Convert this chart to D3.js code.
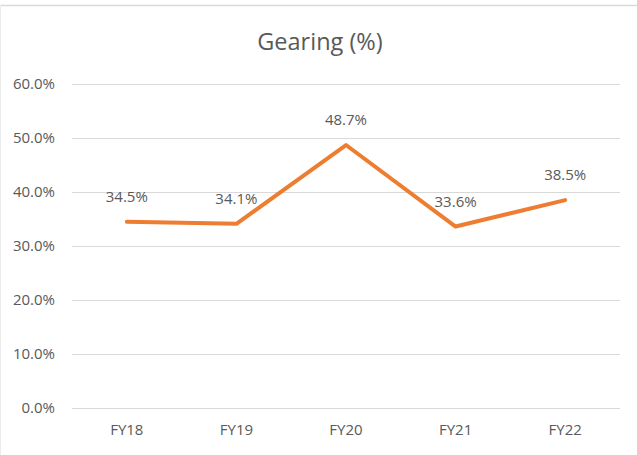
<!DOCTYPE html>
<html>
<head>
<meta charset="utf-8">
<script src="https://cdn.jsdelivr.net/npm/d3@7"></script>
<style>
  body { margin: 0; background: #fff; }
  text { font-family: "Open Sans", "Noto Sans", sans-serif; fill: #595959; }
</style>
</head>
<body>
<div id="chart"></div>
<script>
var years = ["FY18", "FY19", "FY20", "FY21", "FY22"];
var gearing = [34.5, 34.1, 48.7, 33.6, 38.5];
var yTicks = [0, 10, 20, 30, 40, 50, 60];

var W = 637, H = 455;
var margin = {top: 84, right: 17, bottom: 47, left: 72},
    width = W - margin.left - margin.right,
    height = H - margin.top - margin.bottom;

var svg = d3.select("#chart").append("svg")
    .attr("width", W)
    .attr("height", H);

// frame edges (only top and left show in the picture)
svg.append("line")
    .attr("x1", 0).attr("x2", W)
    .attr("y1", 5.5).attr("y2", 5.5)
    .style("stroke", "#d9d9d9").style("stroke-width", 1.5);
svg.append("line")
    .attr("x1", 0.5).attr("x2", 0.5)
    .attr("y1", 5).attr("y2", H)
    .style("stroke", "#ececec");

svg.append("text")
    .attr("x", 320)
    .attr("y", 50)
    .attr("text-anchor", "middle")
    .style("font-size", "23.5px")
    .text("Gearing (%)");

var g = svg.append("g")
    .attr("transform", "translate(" + margin.left + "," + margin.top + ")");

var x = d3.scaleBand()
    .domain(years)
    .range([0, width]);

var y = d3.scaleLinear()
    .domain([0, 60])
    .range([height, 0]);

// gridlines + y labels
var yAxis = d3.axisLeft(y)
    .tickValues(yTicks)
    .tickSize(-width)
    .tickPadding(17)
    .tickFormat(function(d) { return d.toFixed(1) + "%"; });

var yg = g.append("g").attr("class", "y axis").call(yAxis);
yg.select(".domain").remove();
yg.selectAll("line").style("stroke", "#d9d9d9");
yg.selectAll("text").style("font-size", "15px").style("fill", "#595959")
    .attr("font-family", null);

var xAxis = d3.axisBottom(x).tickSize(0).tickPadding(16);
var xg = g.append("g")
    .attr("transform", "translate(0," + height + ")")
    .call(xAxis);
xg.select(".domain").remove();
xg.selectAll("text").style("font-size", "15px").style("fill", "#595959")
    .attr("font-family", null);

var line = d3.line()
    .x(function(d, i) { return x(years[i]) + x.bandwidth() / 2; })
    .y(function(d) { return y(d); });

g.append("path")
    .datum(gearing)
    .attr("d", line)
    .style("fill", "none")
    .style("stroke", "#ed7d31")
    .style("stroke-width", 4)
    .style("stroke-linejoin", "round")
    .style("stroke-linecap", "round");

// data labels
g.selectAll(".lbl")
    .data(gearing)
    .enter().append("text")
    .attr("class", "lbl")
    .attr("x", function(d, i) { return x(years[i]) + x.bandwidth() / 2; })
    .attr("y", function(d) { return y(d) - 20; })
    .attr("text-anchor", "middle")
    .style("font-size", "15px")
    .text(function(d) { return d.toFixed(1) + "%"; });
</script>
</body>
</html>
